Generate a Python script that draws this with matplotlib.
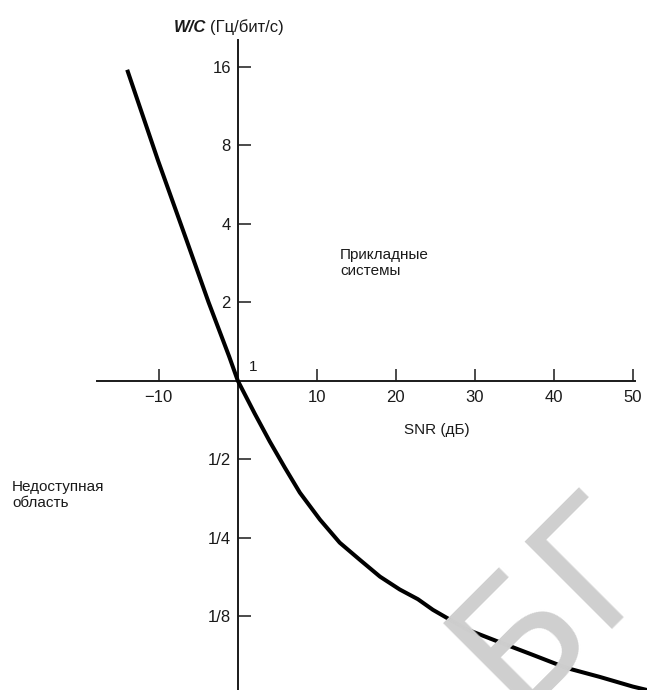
import matplotlib
matplotlib.use("Agg")
import matplotlib.pyplot as plt
from matplotlib.ticker import FixedLocator, NullLocator

plt.rcParams["font.family"] = ["Liberation Sans", "DejaVu Sans"]

# curve: SNR in dB vs W/C in Hz per bit/s
snr_db = [-14.0, -10.1, -6.5, -3.7, -1.1, 0.0, 2.15, 4.05, 5.95, 7.85, 10.4,
          12.9, 15.4, 18.0, 20.5, 22.8, 24.7, 29.0, 33.2, 37.2, 41.6, 45.8,
          50.0, 51.8]
w_over_c = [15.6, 7.0, 3.47, 2.0, 1.24, 1.0, 0.747, 0.584, 0.464, 0.372,
            0.293, 0.239, 0.206, 0.177, 0.158, 0.145, 0.132, 0.111, 0.099,
            0.089, 0.079, 0.073, 0.067, 0.065]

x_ticks = [-10, 10, 20, 30, 40, 50]
x_tick_labels = ["\u221210", "10", "20", "30", "40", "50"]
y_ticks = [1 / 8, 1 / 4, 1 / 2, 2, 4, 8, 16]
y_tick_labels = ["1/8", "1/4", "1/2", "2", "4", "8", "16"]

ink = "#1a1a1a"

fig = plt.figure(figsize=(6.47, 6.90), dpi=100)
ax = fig.add_axes([0, 0, 1, 1])
ax.set_yscale("log", base=2)
ax.set_xlim(-30.1, 51.8)
ax.set_ylim(0.065, 28.9)
ax.patch.set_alpha(0)

# watermark behind everything
fig.text(0.795, -0.03, "БГ", fontsize=122, color="#cfcfcf", rotation=45,
         rotation_mode="anchor", ha="left", va="baseline",
         family="DejaVu Sans", zorder=0)

ax.plot(snr_db, w_over_c, color="black", lw=2.9, solid_capstyle="butt",
        solid_joinstyle="round", zorder=5)

# axes cross at SNR = 0 dB, W/C = 1
for side in ("top", "right"):
    ax.spines[side].set_visible(False)
ax.spines["left"].set_position(("data", 0))
ax.spines["bottom"].set_position(("data", 1))
ax.spines["left"].set_bounds(0.06, 20.3)
ax.spines["bottom"].set_bounds(-17.8, 50.3)
for side in ("left", "bottom"):
    ax.spines[side].set_linewidth(1.4)
    ax.spines[side].set_color(ink)

ax.xaxis.set_major_locator(FixedLocator(x_ticks))
ax.set_xticklabels(x_tick_labels)
ax.xaxis.set_minor_locator(NullLocator())
ax.yaxis.set_major_locator(FixedLocator(y_ticks))
ax.set_yticklabels(y_tick_labels)
ax.yaxis.set_minor_locator(NullLocator())

ax.tick_params(axis="x", direction="in", length=9, width=1.1, pad=7,
               labelsize=12, colors=ink)
ax.tick_params(axis="y", direction="in", length=9, width=1.1, pad=5,
               labelsize=12, colors=ink)

ax.text(1.9, 1.13, "1", fontsize=11, color=ink, ha="center", va="center")

fig.text(437 / 647, 1 - 430 / 690, "SNR (дБ)", fontsize=11, color=ink,
         ha="center", va="center")
fig.text(206 / 647, 1 - 27 / 690, "W/C", fontsize=12, color=ink,
         ha="right", va="center", weight="bold", style="italic")
fig.text(210 / 647, 1 - 27 / 690, "(Гц/бит/с)", fontsize=12, color=ink,
         ha="left", va="center")
fig.text(340 / 647, 1 - 263 / 690, "Прикладные\nсистемы", fontsize=11,
         color=ink, ha="left", va="center", linespacing=1.25)
fig.text(12 / 647, 1 - 495 / 690, "Недоступная\nобласть", fontsize=11,
         color=ink, ha="left", va="center", linespacing=1.25)

fig.savefig("out.png", dpi=100)
